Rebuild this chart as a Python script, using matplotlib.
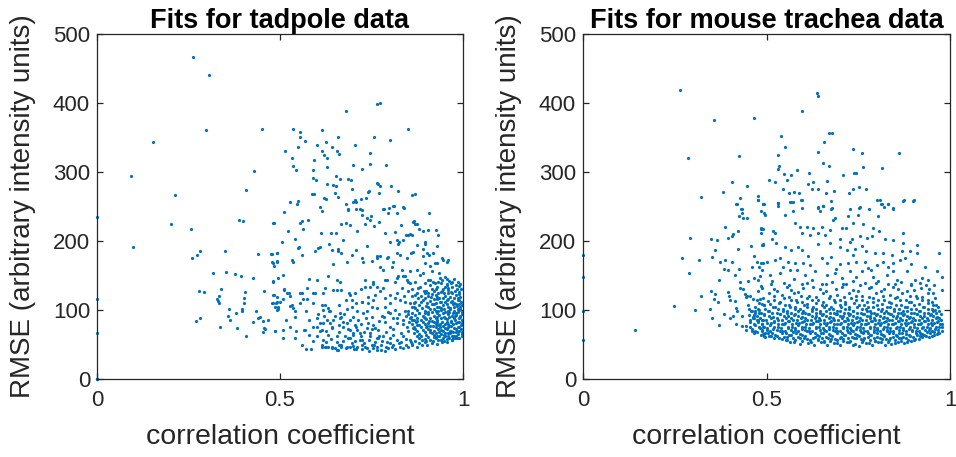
import matplotlib
matplotlib.use('Agg')
import matplotlib.pyplot as plt

plt.rcParams['font.family'] = ['Liberation Sans', 'DejaVu Sans']

# eixo x = coeficiente de correlacao, eixo y = RMSE
tadpole_edge = [(0, 0), (0, 0), (0, 0), (0, 0), (0, 66), (0, 116), (0, 235)]

tadpole_sparse = [
    (0.263, 466), (0.306, 440), (0.297, 361), (0.154, 343), (0.450, 363), (0.094, 294),
    (0.212, 266), (0.428, 301), (0.407, 274), (0.202, 225), (0.257, 218), (0.098, 192),
    (0.387, 231), (0.400, 229), (0.482, 226), (0.281, 186), (0.274, 179), (0.260, 176),
    (0.349, 185), (0.439, 181), (0.476, 181), (0.493, 183), (0.477, 169), (0.493, 171),
    (0.484, 164), (0.316, 154), (0.352, 155), (0.376, 152), (0.393, 149), (0.427, 147),
    (0.495, 147), (0.480, 142), (0.279, 128), (0.291, 126), (0.339, 131), (0.405, 126),
    (0.456, 128), (0.332, 120), (0.327, 116), (0.331, 113), (0.333, 110), (0.403, 118),
    (0.484, 122), (0.403, 110), (0.478, 110), (0.490, 110), (0.495, 105), (0.493, 100),
    (0.362, 101), (0.380, 96), (0.396, 99), (0.397, 102), (0.434, 98), (0.357, 92),
    (0.363, 86), (0.440, 88), (0.445, 90), (0.453, 84), (0.466, 85), (0.426, 83),
    (0.270, 84), (0.282, 88), (0.337, 75), (0.383, 74), (0.455, 74), (0.458, 72),
    (0.454, 68), (0.487, 69), (0.407, 63),
]

tadpole_upper = [
    (0.681, 388), (0.766, 398), (0.773, 400), (0.536, 362), (0.554, 358), (0.554, 351),
    (0.614, 361), (0.849, 363), (0.658, 351), (0.758, 351), (0.801, 347), (0.569, 345),
    (0.549, 336), (0.602, 339), (0.627, 343), (0.641, 336), (0.514, 331), (0.616, 331),
    (0.621, 324), (0.657, 331), (0.661, 326), (0.704, 339), (0.534, 320), (0.628, 320),
    (0.594, 317), (0.747, 328), (0.535, 308), (0.545, 303), (0.629, 307), (0.591, 303),
    (0.699, 310), (0.724, 305), (0.747, 311), (0.790, 310), (0.652, 294), (0.663, 290),
    (0.590, 291), (0.597, 288), (0.686, 290), (0.694, 288), (0.764, 284), (0.768, 282),
    (0.774, 279), (0.803, 280), (0.629, 282), (0.645, 281), (0.653, 279), (0.697, 275),
    (0.740, 271), (0.742, 272), (0.770, 270), (0.823, 273), (0.651, 270), (0.587, 268),
    (0.594, 268), (0.861, 267), (0.868, 268), (0.620, 263), (0.625, 261), (0.659, 264),
    (0.735, 262), (0.722, 261), (0.528, 257), (0.548, 258), (0.547, 254), (0.679, 254),
    (0.699, 256), (0.704, 259), (0.709, 257), (0.610, 249), (0.686, 247), (0.709, 247),
    (0.724, 245), (0.785, 246), (0.799, 248), (0.811, 250), (0.838, 248),
    (0.614, 244), (0.687, 245), (0.718, 246), (0.723, 238), (0.739, 233), (0.746, 230),
    (0.748, 236), (0.782, 247), (0.796, 240), (0.808, 251), (0.821, 240), (0.835, 249),
    (0.908, 241), (0.511, 242), (0.484, 226), (0.560, 229), (0.556, 226), (0.576, 231),
    (0.666, 225), (0.680, 226), (0.691, 223), (0.732, 224), (0.757, 222), (0.771, 227),
    (0.831, 223), (0.867, 229), (0.873, 225), (0.881, 217), (0.891, 214), (0.926, 216),
    (0.711, 215), (0.787, 212), (0.814, 213), (0.523, 215), (0.564, 217), (0.541, 203),
    (0.612, 211), (0.639, 212), (0.653, 212), (0.635, 196), (0.671, 201), (0.506, 198),
    (0.553, 192), (0.550, 190), (0.596, 185), (0.605, 190), (0.609, 192), (0.643, 187),
    (0.659, 188), (0.668, 182), (0.659, 186), (0.737, 193), (0.708, 187), (0.819, 202),
    (0.826, 198), (0.837, 202), (0.849, 208), (0.855, 210), (0.823, 196), (0.873, 194),
    (0.896, 198), (0.891, 188), (0.864, 184), (0.846, 176), (0.828, 179), (0.819, 182),
    (0.794, 177), (0.773, 178), (0.766, 175), (0.752, 171), (0.723, 175), (0.728, 170),
    (0.696, 180), (0.682, 169), (0.646, 167), (0.559, 179), (0.532, 173), (0.536, 169),
    (0.477, 181), (0.493, 183), (0.493, 170), (0.482, 168), (0.901, 182), (0.908, 179),
    (0.919, 182), (0.946, 173), (0.955, 170), (0.928, 168), (0.910, 164),
    (0.864, 228), (0.869, 224), (0.905, 216), (0.933, 209), (0.801, 198), (0.844, 208),
    (0.860, 208), (0.896, 196), (0.928, 193), (0.764, 178), (0.791, 175), (0.810, 170),
    (0.857, 182), (0.892, 178), (0.896, 168), (0.923, 168), (0.942, 175), (0.960, 173),
    (0.773, 163), (0.782, 158), (0.805, 163), (0.832, 158), (0.855, 156), (0.882, 151),
    (0.914, 156), (0.935, 153), (0.753, 137), (0.764, 134), (0.787, 144), (0.814, 141),
    (0.841, 149), (0.851, 141), (0.869, 141), (0.882, 134), (0.896, 139), (0.905, 144),
    (0.919, 141), (0.937, 146),
]

tadpole_middle = [
    (0.482, 141), (0.509, 151), (0.518, 124), (0.511, 129), (0.491, 119), (0.500, 112),
    (0.486, 105), (0.527, 106), (0.536, 103), (0.541, 98), (0.556, 124), (0.564, 116),
    (0.573, 132), (0.580, 145), (0.600, 144), (0.623, 132), (0.632, 149), (0.646, 129),
    (0.596, 124), (0.589, 110), (0.614, 107), (0.618, 100), (0.632, 103), (0.636, 98),
    (0.655, 144), (0.664, 141), (0.668, 129), (0.688, 124), (0.696, 115), (0.709, 110),
    (0.723, 112), (0.732, 144), (0.746, 134), (0.755, 141), (0.741, 119), (0.755, 115),
    (0.773, 127), (0.782, 132), (0.791, 144), (0.819, 146), (0.823, 149), (0.837, 150),
    (0.846, 144), (0.855, 139), (0.832, 132), (0.800, 122), (0.814, 117), (0.828, 115),
    (0.841, 112), (0.855, 110), (0.787, 105), (0.814, 100), (0.873, 158), (0.891, 153),
    (0.910, 144), (0.923, 139), (0.932, 141), (0.942, 144), (0.955, 136), (0.969, 141),
    (0.482, 122), (0.480, 110), (0.493, 111), (0.507, 116), (0.495, 101), (0.511, 130),
    (0.525, 125), (0.527, 120), (0.532, 107), (0.541, 90), (0.516, 85), (0.526, 76),
    (0.486, 69), (0.507, 71), (0.544, 70), (0.556, 110), (0.560, 125), (0.573, 116),
    (0.571, 98), (0.568, 71), (0.591, 124), (0.589, 76), (0.605, 94), (0.609, 81),
    (0.614, 71), (0.618, 124), (0.623, 107), (0.635, 98), (0.636, 81), (0.641, 74),
    (0.655, 129), (0.662, 107), (0.664, 95), (0.668, 90), (0.671, 83), (0.682, 81),
    (0.691, 122), (0.696, 105), (0.700, 90), (0.705, 78), (0.711, 71), (0.723, 112),
    (0.732, 134), (0.737, 98), (0.741, 81), (0.746, 66), (0.750, 90), (0.760, 74),
    (0.764, 103), (0.769, 59), (0.509, 59), (0.566, 71), (0.609, 69), (0.617, 81),
    (0.628, 86), (0.641, 76), (0.650, 92), (0.664, 88), (0.632, 64), (0.655, 62),
    (0.678, 62), (0.691, 71), (0.709, 76), (0.718, 66), (0.737, 74), (0.755, 78),
    (0.769, 71), (0.787, 83), (0.800, 76), (0.819, 81), (0.837, 86), (0.846, 76),
    (0.864, 74), (0.673, 76), (0.700, 64), (0.723, 57), (0.746, 62), (0.760, 54),
    (0.782, 62), (0.800, 59), (0.819, 57), (0.837, 62), (0.855, 57), (0.873, 62),
    (0.887, 57), (0.778, 92), (0.795, 97), (0.808, 88), (0.826, 94), (0.842, 99),
    (0.858, 90), (0.866, 104), (0.874, 84), (0.849, 128), (0.868, 122), (0.878, 132),
    (0.893, 127), (0.727, 95), (0.714, 86), (0.786, 118), (0.722, 130), (0.683, 101),
    (0.560, 50), (0.590, 55), (0.600, 62), (0.625, 53), (0.640, 58), (0.660, 50),
    (0.672, 55), (0.685, 60), (0.700, 48), (0.705, 55), (0.720, 63), (0.730, 52),
    (0.742, 57), (0.758, 50), (0.766, 60), (0.780, 55), (0.790, 47), (0.800, 52),
    (0.810, 64), (0.830, 53), (0.845, 58), (0.860, 51), (0.870, 55), (0.880, 60),
    (0.580, 85), (0.600, 88), (0.620, 92), (0.645, 86), (0.660, 78), (0.676, 94),
    (0.690, 86), (0.710, 98), (0.720, 80), (0.735, 88), (0.750, 104), (0.770, 84),
    (0.785, 90), (0.800, 95), (0.820, 88), (0.835, 80), (0.850, 94), (0.862, 86),
    (0.875, 78), (0.880, 96), (0.660, 68), (0.685, 72), (0.700, 67), (0.730, 68),
    (0.750, 72), (0.770, 63), (0.790, 68), (0.810, 72), (0.830, 67), (0.850, 70),
    (0.865, 66), (0.540, 60), (0.580, 64), (0.600, 75), (0.625, 70), (0.680, 115),
    (0.705, 125), (0.740, 110), (0.760, 122), (0.800, 110), (0.820, 125), (0.840, 120),
    (0.860, 130),
]

tadpole_floor = [
    (0.571, 43), (0.584, 44), (0.614, 47), (0.623, 46), (0.632, 46), (0.641, 47),
    (0.650, 45), (0.659, 42), (0.668, 47), (0.680, 45), (0.691, 46), (0.702, 43),
    (0.711, 47), (0.723, 44), (0.732, 47), (0.744, 41), (0.755, 45), (0.764, 47),
    (0.775, 42), (0.787, 40), (0.796, 45), (0.805, 47), (0.814, 43), (0.828, 47),
    (0.837, 45), (0.851, 47), (0.862, 49), (0.873, 47), (0.887, 49), (0.901, 49),
    (0.914, 52), (0.928, 51), (0.942, 53), (0.955, 54), (0.969, 57), (0.983, 59),
    (0.614, 49), (0.627, 47), (0.641, 45), (0.655, 42), (0.668, 49), (0.682, 47),
    (0.696, 52), (0.709, 43), (0.723, 49), (0.737, 45), (0.750, 49), (0.764, 42),
    (0.618, 57), (0.655, 54), (0.691, 59), (0.719, 57), (0.776, 50), (0.792, 53),
    (0.808, 50), (0.824, 52), (0.843, 50), (0.858, 53), (0.879, 52), (0.895, 54),
]

tadpole_cluster = [
    (0.950, 148), (0.962, 142), (0.975, 145), (0.940, 139), (0.985, 140),
    (0.910, 136), (0.930, 134), (0.955, 137), (0.970, 133), (0.988, 135), (0.945, 131),
    (0.900, 128), (0.920, 127), (0.940, 126), (0.960, 129), (0.978, 127), (0.990, 126),
    (0.875, 125), (0.885, 121), (0.905, 120), (0.925, 122), (0.935, 118), (0.950, 121),
    (0.965, 119), (0.980, 122), (0.993, 119), (0.860, 120), (0.890, 114), (0.910, 113),
    (0.920, 116), (0.940, 112), (0.955, 115), (0.970, 113), (0.985, 114), (0.995, 112),
    (0.870, 112), (0.880, 107), (0.900, 106), (0.915, 108), (0.930, 105), (0.945, 107),
    (0.960, 104), (0.972, 108), (0.983, 106), (0.992, 104), (0.860, 105), (0.875, 100),
    (0.895, 99), (0.910, 101), (0.925, 98), (0.940, 100), (0.952, 97), (0.965, 101),
    (0.975, 98), (0.988, 100), (0.997, 97), (0.850, 99), (0.870, 93), (0.890, 92),
    (0.905, 94), (0.920, 91), (0.935, 93), (0.948, 90), (0.960, 94), (0.970, 91),
    (0.982, 93), (0.993, 90), (0.845, 92), (0.865, 86), (0.885, 85), (0.900, 87),
    (0.915, 84), (0.930, 86), (0.943, 83), (0.955, 87), (0.967, 84), (0.978, 86),
    (0.990, 83), (0.998, 86), (0.860, 79), (0.880, 78), (0.895, 80), (0.910, 77),
    (0.925, 79), (0.938, 76), (0.950, 80), (0.962, 77), (0.973, 79), (0.985, 76),
    (0.995, 78), (0.870, 72), (0.890, 71), (0.905, 73), (0.920, 70), (0.933, 72),
    (0.945, 69), (0.957, 73), (0.968, 70), (0.980, 72), (0.990, 69), (0.880, 65),
    (0.900, 64), (0.915, 66), (0.928, 63), (0.940, 65), (0.952, 62), (0.964, 66),
    (0.976, 63), (0.987, 65), (0.996, 62), (0.895, 58), (0.910, 57), (0.925, 59),
    (0.940, 56), (0.955, 58), (0.970, 57), (0.983, 60), (0.905, 125), (0.930, 119),
    (0.960, 124), (0.985, 118), (0.925, 110), (0.950, 111), (0.975, 110), (0.990, 108),
    (0.905, 97), (0.930, 96), (0.958, 95), (0.980, 96), (0.895, 89), (0.925, 88),
    (0.950, 89), (0.975, 88), (0.993, 92), (0.905, 81), (0.930, 82), (0.955, 82),
    (0.980, 81), (0.900, 75), (0.925, 75), (0.950, 74), (0.975, 74), (0.995, 73),
    (0.910, 68), (0.935, 68), (0.960, 67), (0.980, 68), (0.920, 61), (0.945, 60),
    (0.970, 62), (0.990, 59), (0.940, 103), (0.965, 103), (0.985, 102), (0.950, 134),
    (0.970, 124), (0.915, 131), (0.995, 130),
    (0.955, 145), (0.968, 139), (0.980, 136), (0.993, 138), (0.925, 130), (0.942, 128),
    (0.958, 132), (0.983, 130), (0.895, 124), (0.915, 123), (0.932, 125), (0.948, 124),
    (0.968, 126), (0.988, 123), (0.878, 118), (0.895, 117), (0.912, 119), (0.928, 116),
    (0.945, 118), (0.960, 116), (0.975, 117), (0.990, 115), (0.865, 110), (0.885, 111),
    (0.903, 110), (0.920, 109), (0.936, 111), (0.955, 108), (0.968, 111), (0.980, 109),
    (0.997, 107), (0.868, 103), (0.888, 103), (0.905, 104), (0.920, 102), (0.935, 104),
    (0.948, 102), (0.960, 99), (0.975, 104), (0.992, 101), (0.860, 96), (0.880, 96),
    (0.897, 96), (0.915, 97), (0.932, 99), (0.945, 95), (0.962, 97), (0.972, 95),
    (0.987, 97), (0.997, 94), (0.855, 89), (0.875, 89), (0.893, 90), (0.910, 89),
    (0.930, 90), (0.940, 88), (0.962, 90), (0.978, 91), (0.988, 88), (0.852, 82),
    (0.872, 82), (0.890, 83), (0.907, 84), (0.920, 83), (0.937, 80), (0.960, 80),
    (0.968, 82), (0.985, 83), (0.997, 81), (0.865, 76), (0.885, 75), (0.903, 77),
    (0.918, 77), (0.932, 78), (0.945, 77), (0.958, 76), (0.968, 77), (0.990, 75),
    (0.875, 69), (0.895, 68), (0.910, 71), (0.926, 67), (0.940, 71), (0.952, 67),
    (0.965, 70), (0.974, 68), (0.985, 70), (0.998, 68), (0.885, 62), (0.905, 61),
    (0.920, 64), (0.935, 62), (0.948, 64), (0.960, 63), (0.973, 60), (0.982, 63),
    (0.998, 65), (0.900, 55), (0.918, 55), (0.933, 57), (0.948, 55), (0.962, 59),
    (0.977, 60),
]

trachea_edge = [(0, 179), (0, 148), (0, 98), (0, 56)]

trachea_sparse = [
    (0.263, 419), (0.358, 376), (0.466, 378), (0.285, 321), (0.424, 323), (0.405, 286),
    (0.446, 280), (0.381, 271), (0.321, 264), (0.427, 262), (0.477, 265), (0.477, 259),
    (0.418, 254), (0.491, 253), (0.431, 247), (0.638, 415), (0.640, 410), (0.596, 389),
    (0.539, 352), (0.671, 357), (0.678, 357), (0.550, 336), (0.657, 343), (0.530, 324),
    (0.640, 329), (0.736, 334), (0.760, 328), (0.860, 327), (0.530, 305), (0.535, 308),
    (0.655, 313), (0.670, 308), (0.762, 307), (0.816, 306), (0.583, 303), (0.548, 297),
    (0.566, 295), (0.616, 298), (0.709, 295), (0.738, 298), (0.744, 298), (0.508, 288),
    (0.524, 285), (0.555, 289), (0.628, 286), (0.612, 283), (0.665, 287), (0.545, 275),
    (0.623, 276), (0.639, 275), (0.752, 278), (0.772, 276), (0.561, 269), (0.574, 271),
    (0.588, 270), (0.661, 270), (0.683, 273), (0.726, 270), (0.735, 275), (0.491, 253),
    (0.532, 255), (0.532, 250), (0.565, 256), (0.573, 257), (0.596, 259), (0.676, 258),
    (0.800, 259), (0.809, 259), (0.813, 253), (0.819, 249), (0.831, 254), (0.846, 247),
    (0.874, 259), (0.901, 259), (0.655, 251), (0.598, 248), (0.641, 248), (0.679, 248),
    (0.728, 246), (0.753, 248), (0.779, 247),
    (0.142, 71), (0.247, 106), (0.291, 204), (0.271, 175), (0.288, 153), (0.317, 173),
    (0.305, 100), (0.322, 120), (0.349, 203), (0.366, 202), (0.359, 187), (0.351, 177),
    (0.373, 169), (0.386, 220), (0.394, 204), (0.406, 207), (0.409, 210), (0.423, 214),
    (0.420, 254), (0.432, 246), (0.432, 240), (0.424, 236), (0.435, 234), (0.447, 234),
    (0.477, 259), (0.485, 244), (0.492, 253), (0.493, 240), (0.386, 172), (0.384, 159),
    (0.396, 158), (0.406, 170), (0.423, 188), (0.426, 160), (0.414, 151), (0.370, 144),
    (0.350, 128), (0.359, 123), (0.357, 116), (0.368, 112), (0.346, 102), (0.351, 88),
    (0.371, 78), (0.385, 94), (0.394, 126), (0.398, 121), (0.400, 115), (0.415, 113),
    (0.417, 103), (0.419, 99), (0.400, 88), (0.408, 91), (0.417, 79), (0.429, 140),
    (0.427, 132), (0.436, 131), (0.441, 123), (0.444, 119), (0.449, 142), (0.457, 193),
    (0.466, 178), (0.474, 170), (0.480, 163), (0.460, 163), (0.466, 147), (0.478, 144),
    (0.484, 135), (0.489, 132), (0.477, 128), (0.447, 120), (0.455, 121), (0.464, 116),
    (0.473, 114), (0.482, 116), (0.487, 109), (0.450, 107), (0.453, 101), (0.459, 98),
    (0.468, 99), (0.476, 101), (0.480, 95), (0.466, 93), (0.464, 88), (0.473, 86),
    (0.477, 82), (0.491, 86), (0.487, 80), (0.494, 76), (0.432, 91), (0.432, 77),
    (0.443, 77), (0.445, 71), (0.456, 75), (0.461, 70), (0.487, 69), (0.493, 62),
    (0.483, 149), (0.484, 168), (0.487, 194), (0.486, 211), (0.486, 218), (0.490, 218),
    (0.491, 196), (0.489, 158), (0.492, 107),
]

trachea_upper = [
    (0.532, 255), (0.568, 256), (0.595, 259), (0.641, 249), (0.655, 251), (0.675, 246),
    (0.686, 233), (0.646, 243), (0.723, 236), (0.750, 238), (0.755, 249), (0.737, 226),
    (0.764, 225), (0.791, 219), (0.805, 236), (0.814, 254), (0.832, 254), (0.846, 248),
    (0.873, 258), (0.900, 258), (0.495, 238), (0.486, 219), (0.518, 215), (0.523, 211),
    (0.550, 238), (0.573, 243), (0.577, 226), (0.591, 220), (0.609, 221), (0.627, 219),
    (0.650, 221), (0.673, 216), (0.682, 230), (0.705, 219), (0.716, 219), (0.598, 211),
    (0.618, 209), (0.641, 211), (0.659, 209), (0.700, 203), (0.727, 199), (0.732, 203),
    (0.755, 207), (0.773, 204), (0.787, 207), (0.807, 214), (0.823, 203), (0.846, 202),
    (0.873, 211), (0.873, 197), (0.909, 194), (0.491, 194), (0.516, 203), (0.527, 197),
    (0.550, 192), (0.568, 187), (0.586, 192), (0.598, 187), (0.641, 195), (0.673, 197),
    (0.700, 192), (0.718, 187), (0.741, 188), (0.759, 193), (0.771, 186), (0.796, 182),
    (0.818, 182), (0.841, 180), (0.868, 185), (0.891, 185), (0.909, 182), (0.970, 182),
    (0.491, 168), (0.500, 170), (0.523, 173), (0.536, 175), (0.559, 170), (0.577, 168),
    (0.600, 168), (0.618, 165), (0.650, 175), (0.664, 168), (0.677, 177), (0.700, 166),
    (0.723, 168), (0.745, 170), (0.768, 170), (0.777, 161), (0.800, 165), (0.818, 170),
    (0.844, 168), (0.864, 173), (0.895, 167), (0.509, 151), (0.536, 153), (0.564, 158),
    (0.582, 158), (0.605, 151), (0.632, 156), (0.664, 151), (0.686, 153), (0.705, 146),
    (0.727, 156), (0.745, 148), (0.759, 156), (0.791, 148), (0.827, 151), (0.846, 156),
    (0.855, 144), (0.882, 156), (0.905, 144), (0.923, 146), (0.941, 144), (0.964, 156),
    (0.977, 148), (0.977, 129), (0.955, 124), (0.516, 142), (0.548, 139), (0.574, 145),
    (0.596, 137), (0.623, 143), (0.652, 138), (0.679, 141), (0.716, 137), (0.737, 142),
    (0.768, 139), (0.804, 142), (0.832, 137), (0.866, 141), (0.893, 136), (0.918, 139),
    (0.529, 127), (0.556, 134), (0.587, 126), (0.627, 133), (0.661, 128), (0.706, 133),
    (0.748, 127), (0.786, 134), (0.812, 127), (0.844, 133), (0.884, 127), (0.922, 132),
    (0.956, 136), (0.545, 162), (0.612, 178), (0.690, 160), (0.736, 180), (0.785, 158),
    (0.832, 163), (0.878, 176), (0.933, 163),
]

trachea_band = [
    (0.565, 53), (0.590, 51), (0.612, 52), (0.630, 50), (0.648, 54), (0.665, 50),
    (0.683, 52), (0.700, 49), (0.718, 53), (0.735, 50), (0.752, 48), (0.770, 52),
    (0.787, 49), (0.805, 53), (0.822, 50), (0.840, 51), (0.858, 54), (0.875, 52),
    (0.893, 55), (0.520, 60), (0.543, 58), (0.557, 57), (0.578, 56), (0.601, 59),
    (0.618, 56), (0.641, 58), (0.657, 55), (0.676, 58), (0.693, 56), (0.709, 58),
    (0.728, 55), (0.744, 59), (0.763, 56), (0.781, 57), (0.796, 55), (0.816, 58),
    (0.833, 56), (0.851, 57), (0.867, 59), (0.886, 57), (0.905, 58), (0.924, 61),
    (0.943, 61), (0.485, 64), (0.506, 63), (0.529, 62), (0.549, 61), (0.567, 64),
    (0.586, 61), (0.604, 63), (0.626, 60), (0.644, 63), (0.663, 61), (0.679, 62),
    (0.699, 60), (0.714, 64), (0.734, 61), (0.751, 62), (0.767, 60), (0.786, 64),
    (0.802, 61), (0.821, 63), (0.837, 60), (0.856, 63), (0.872, 61), (0.891, 62),
    (0.911, 64), (0.929, 64), (0.951, 63), (0.964, 65), (0.475, 68), (0.496, 67),
    (0.514, 66), (0.536, 69), (0.552, 66), (0.571, 68), (0.591, 65), (0.609, 69),
    (0.631, 66), (0.649, 67), (0.669, 65), (0.687, 69), (0.706, 66), (0.721, 68),
    (0.741, 65), (0.757, 68), (0.776, 66), (0.792, 68), (0.811, 65), (0.827, 69),
    (0.846, 66), (0.862, 67), (0.881, 65), (0.897, 69), (0.918, 66), (0.936, 68),
    (0.956, 68), (0.971, 66), (0.461, 72), (0.481, 74), (0.501, 71), (0.519, 73),
    (0.541, 70), (0.559, 74), (0.579, 71), (0.596, 73), (0.616, 70), (0.634, 74),
    (0.656, 71), (0.671, 73), (0.691, 70), (0.709, 74), (0.729, 71), (0.745, 73),
    (0.766, 70), (0.782, 74), (0.801, 71), (0.817, 73), (0.837, 70), (0.852, 74),
    (0.871, 71), (0.887, 73), (0.907, 70), (0.923, 74), (0.944, 71), (0.959, 73),
    (0.977, 70), (0.470, 78), (0.491, 76), (0.509, 78), (0.531, 75), (0.549, 79),
    (0.569, 76), (0.586, 78), (0.606, 75), (0.624, 79), (0.644, 76), (0.661, 78),
    (0.681, 75), (0.699, 79), (0.719, 76), (0.736, 78), (0.756, 75), (0.772, 79),
    (0.793, 76), (0.809, 78), (0.829, 75), (0.845, 79), (0.865, 76), (0.881, 78),
    (0.901, 75), (0.917, 79), (0.937, 76), (0.952, 78), (0.969, 76), (0.456, 82),
    (0.477, 84), (0.501, 81), (0.521, 83), (0.543, 80), (0.559, 84), (0.581, 81),
    (0.597, 83), (0.618, 80), (0.636, 84), (0.656, 81), (0.674, 83), (0.693, 80),
    (0.711, 84), (0.731, 81), (0.747, 83), (0.768, 80), (0.785, 84), (0.804, 81),
    (0.821, 83), (0.841, 80), (0.857, 84), (0.877, 81), (0.893, 83), (0.913, 80),
    (0.929, 84), (0.949, 81), (0.964, 83), (0.979, 80), (0.466, 88), (0.487, 86),
    (0.511, 88), (0.531, 85), (0.553, 89), (0.571, 86), (0.593, 88), (0.609, 85),
    (0.631, 89), (0.647, 86), (0.669, 88), (0.685, 85), (0.706, 89), (0.723, 86),
    (0.743, 88), (0.759, 85), (0.781, 89), (0.797, 86), (0.817, 88), (0.833, 85),
    (0.853, 89), (0.869, 86), (0.889, 88), (0.905, 85), (0.925, 89), (0.941, 86),
    (0.961, 88), (0.975, 85), (0.451, 93), (0.473, 91), (0.494, 93), (0.519, 90),
    (0.537, 94), (0.559, 91), (0.576, 93), (0.597, 90), (0.614, 94), (0.635, 91),
    (0.652, 93), (0.673, 90), (0.689, 94), (0.709, 91), (0.726, 93), (0.746, 90),
    (0.763, 94), (0.783, 91), (0.799, 93), (0.820, 90), (0.836, 94), (0.856, 91),
    (0.872, 93), (0.891, 90), (0.909, 94), (0.929, 91), (0.945, 93), (0.964, 90),
    (0.975, 94), (0.460, 98), (0.484, 96), (0.504, 98), (0.528, 95), (0.546, 99),
    (0.568, 96), (0.585, 98), (0.606, 95), (0.624, 99), (0.645, 96), (0.662, 98),
    (0.683, 95), (0.699, 99), (0.721, 96), (0.737, 98), (0.757, 95), (0.774, 99),
    (0.794, 96), (0.811, 98), (0.831, 95), (0.847, 99), (0.867, 96), (0.883, 98),
    (0.903, 95), (0.919, 99), (0.939, 96), (0.955, 98), (0.970, 99), (0.470, 104),
    (0.496, 102), (0.519, 104), (0.546, 101), (0.564, 105), (0.591, 102), (0.611, 104),
    (0.636, 101), (0.657, 105), (0.681, 102), (0.702, 104), (0.726, 101), (0.747, 105),
    (0.771, 102), (0.791, 104), (0.816, 101), (0.837, 105), (0.861, 102), (0.882, 104),
    (0.906, 101), (0.927, 105), (0.951, 102), (0.967, 105), (0.480, 110), (0.509, 108),
    (0.534, 110), (0.561, 107), (0.584, 111), (0.611, 108), (0.636, 110), (0.663, 107),
    (0.687, 111), (0.714, 108), (0.739, 110), (0.766, 107), (0.789, 111), (0.816, 108),
    (0.839, 110), (0.866, 107), (0.889, 111), (0.916, 108), (0.939, 110), (0.962, 107),
    (0.490, 117), (0.521, 115), (0.549, 117), (0.581, 114), (0.609, 118), (0.641, 115),
    (0.669, 117), (0.701, 114), (0.729, 118), (0.761, 115), (0.789, 117), (0.821, 114),
    (0.849, 118), (0.881, 115), (0.909, 117), (0.941, 114), (0.960, 118), (0.506, 124),
    (0.541, 122), (0.574, 124), (0.616, 121), (0.654, 125), (0.691, 122), (0.724, 124),
    (0.761, 121), (0.799, 125), (0.836, 122), (0.869, 124), (0.906, 121), (0.939, 125),
    (0.521, 131), (0.566, 129), (0.599, 132), (0.646, 130), (0.689, 131), (0.736, 129),
    (0.779, 132), (0.821, 130), (0.859, 131), (0.901, 129), (0.944, 131), (0.511, 138),
    (0.561, 136), (0.609, 139), (0.661, 137), (0.709, 138), (0.756, 136), (0.799, 139),
    (0.851, 137), (0.894, 138), (0.934, 136),
]

trachea_band_fill = [
    (0.553, 56), (0.574, 54), (0.596, 55), (0.621, 53), (0.639, 56), (0.656, 53),
    (0.674, 55), (0.691, 52), (0.709, 55), (0.726, 53), (0.742, 51), (0.761, 54),
    (0.778, 52), (0.796, 55), (0.813, 53), (0.831, 54), (0.849, 52), (0.866, 55),
    (0.884, 54), (0.902, 56), (0.915, 58), (0.497, 61), (0.512, 62), (0.534, 60),
    (0.555, 61), (0.573, 59), (0.592, 60), (0.611, 58), (0.632, 61), (0.651, 59),
    (0.668, 60), (0.688, 58), (0.704, 61), (0.722, 59), (0.739, 60), (0.757, 58),
    (0.776, 61), (0.792, 59), (0.808, 60), (0.826, 58), (0.845, 61), (0.862, 59),
    (0.879, 60), (0.898, 61), (0.917, 62), (0.935, 63), (0.957, 64), (0.466, 66),
    (0.490, 65), (0.505, 66), (0.523, 64), (0.543, 66), (0.561, 64), (0.580, 66),
    (0.598, 64), (0.618, 66), (0.637, 64), (0.655, 66), (0.673, 64), (0.693, 66),
    (0.710, 64), (0.728, 66), (0.746, 64), (0.763, 66), (0.781, 64), (0.800, 66),
    (0.817, 64), (0.835, 66), (0.852, 64), (0.870, 66), (0.888, 64), (0.907, 66),
    (0.925, 65), (0.945, 66), (0.966, 67), (0.470, 70), (0.488, 71), (0.510, 69),
    (0.529, 71), (0.550, 69), (0.568, 71), (0.586, 69), (0.606, 71), (0.624, 69),
    (0.645, 71), (0.663, 69), (0.681, 71), (0.699, 69), (0.719, 71), (0.737, 69),
    (0.755, 71), (0.774, 69), (0.792, 71), (0.809, 69), (0.827, 71), (0.845, 69),
    (0.862, 71), (0.879, 69), (0.897, 71), (0.915, 69), (0.933, 71), (0.952, 69),
    (0.968, 71), (0.480, 75), (0.500, 74), (0.520, 76), (0.540, 74), (0.559, 76),
    (0.578, 74), (0.597, 76), (0.615, 74), (0.635, 76), (0.653, 74), (0.671, 76),
    (0.690, 74), (0.709, 76), (0.727, 74), (0.746, 76), (0.764, 74), (0.783, 76),
    (0.801, 74), (0.819, 76), (0.837, 74), (0.855, 76), (0.873, 74), (0.891, 76),
    (0.909, 74), (0.927, 76), (0.945, 74), (0.962, 76), (0.978, 75), (0.466, 80),
    (0.489, 79), (0.511, 81), (0.532, 79), (0.551, 81), (0.570, 79), (0.589, 81),
    (0.608, 79), (0.627, 81), (0.646, 79), (0.665, 81), (0.684, 79), (0.702, 81),
    (0.721, 79), (0.739, 81), (0.758, 79), (0.776, 81), (0.795, 79), (0.813, 81),
    (0.831, 79), (0.849, 81), (0.867, 79), (0.885, 81), (0.903, 79), (0.921, 81),
    (0.939, 79), (0.957, 81), (0.972, 79), (0.455, 86), (0.477, 85), (0.499, 86),
    (0.520, 84), (0.542, 86), (0.562, 84), (0.582, 86), (0.601, 84), (0.620, 86),
    (0.639, 84), (0.658, 86), (0.677, 84), (0.696, 86), (0.714, 84), (0.733, 86),
    (0.751, 84), (0.770, 86), (0.788, 84), (0.807, 86), (0.825, 84), (0.843, 86),
    (0.861, 84), (0.879, 86), (0.897, 84), (0.915, 86), (0.933, 84), (0.951, 86),
    (0.968, 84), (0.462, 90), (0.483, 89), (0.506, 91), (0.528, 89), (0.548, 91),
    (0.567, 89), (0.587, 91), (0.606, 89), (0.624, 91), (0.644, 89), (0.662, 91),
    (0.681, 89), (0.700, 91), (0.718, 89), (0.737, 91), (0.755, 89), (0.774, 91),
    (0.792, 89), (0.810, 91), (0.828, 89), (0.846, 91), (0.864, 89), (0.882, 91),
    (0.900, 89), (0.918, 91), (0.936, 89), (0.955, 91), (0.970, 89), (0.470, 95),
    (0.493, 94), (0.515, 96), (0.536, 94), (0.557, 96), (0.577, 94), (0.596, 96),
    (0.615, 94), (0.634, 96), (0.653, 94), (0.672, 96), (0.691, 94), (0.710, 96),
    (0.728, 94), (0.747, 96), (0.765, 94), (0.784, 96), (0.802, 94), (0.821, 96),
    (0.839, 94), (0.857, 96), (0.875, 94), (0.893, 96), (0.911, 94), (0.929, 96),
    (0.947, 94), (0.963, 96), (0.480, 100), (0.506, 99), (0.532, 101), (0.556, 99),
    (0.578, 101), (0.600, 99), (0.623, 101), (0.646, 99), (0.669, 101), (0.692, 99),
    (0.714, 101), (0.737, 99), (0.759, 101), (0.781, 99), (0.803, 101), (0.826, 99),
    (0.848, 101), (0.871, 99), (0.894, 101), (0.916, 99), (0.939, 101), (0.958, 100),
    (0.494, 107), (0.522, 105), (0.550, 107), (0.577, 105), (0.601, 107), (0.626, 105),
    (0.651, 107), (0.676, 105), (0.700, 107), (0.726, 105), (0.751, 107), (0.777, 105),
    (0.802, 107), (0.828, 105), (0.852, 107), (0.877, 105), (0.902, 107), (0.928, 105),
    (0.953, 107), (0.505, 113), (0.536, 112), (0.567, 114), (0.597, 112), (0.625, 114),
    (0.655, 112), (0.685, 114), (0.715, 112), (0.745, 114), (0.775, 112), (0.805, 114),
    (0.835, 112), (0.865, 114), (0.895, 112), (0.925, 114), (0.952, 112), (0.520, 120),
    (0.560, 119), (0.595, 121), (0.635, 119), (0.672, 121), (0.710, 119), (0.745, 121),
    (0.780, 119), (0.818, 121), (0.855, 119), (0.890, 121), (0.925, 119),
]

DOT_COLOR = '#0072BD'
AXIS_COLOR = '#262626'


def desenha(ax, grupos, titulo):
    for grupo in grupos:
        xs = [p[0] for p in grupo]
        ys = [p[1] for p in grupo]
        ax.plot(xs, ys, linestyle='none', marker='o', markersize=2.3,
                markeredgewidth=0, color=DOT_COLOR, clip_on=False)
    ax.set_xlim(0, 1)
    ax.set_ylim(0, 500)
    ax.set_xticks([0, 0.5, 1])
    ax.set_xticklabels(['0', '0.5', '1'])
    ax.set_yticks([0, 100, 200, 300, 400, 500])
    ax.tick_params(direction='in', length=4.5, width=0.9, colors=AXIS_COLOR,
                   labelsize=16, top=True, right=True)
    ax.tick_params(axis='x', pad=8)
    ax.tick_params(axis='y', pad=5)
    for s in ax.spines.values():
        s.set_color(AXIS_COLOR)
        s.set_linewidth(0.9)
    ax.set_xlabel('correlation coefficient', fontsize=20.5, color=AXIS_COLOR, labelpad=9)
    ax.set_ylabel('RMSE (arbitrary intensity units)', fontsize=20, color=AXIS_COLOR,
                  labelpad=12)
    ax.set_title(titulo, fontsize=19.5, fontweight='bold', color='black', pad=4)


fig = plt.figure(figsize=(9.56, 4.57), dpi=100)
ax1 = fig.add_axes([97 / 956, 1 - 379 / 457, 366 / 956, 345 / 457])
ax2 = fig.add_axes([583 / 956, 1 - 379 / 457, 367 / 956, 345 / 457])

desenha(ax1, [tadpole_edge, tadpole_sparse, tadpole_upper, tadpole_middle,
              tadpole_floor, tadpole_cluster], 'Fits for tadpole data')
desenha(ax2, [trachea_edge, trachea_sparse, trachea_upper, trachea_band,
              trachea_band_fill], 'Fits for mouse trachea data')

fig.savefig('out.png', dpi=100)
